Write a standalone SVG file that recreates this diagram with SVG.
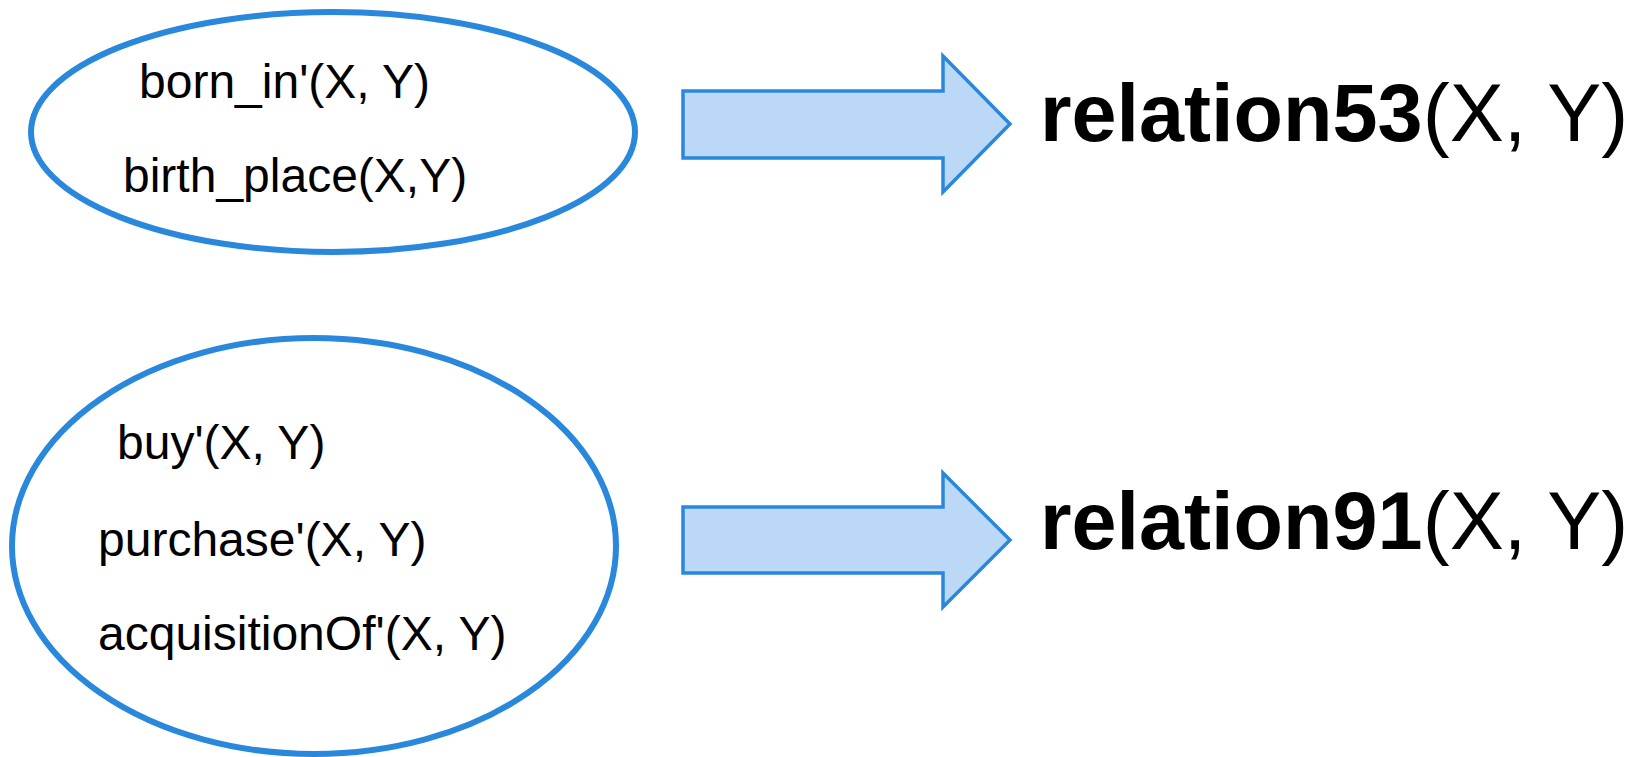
<svg xmlns="http://www.w3.org/2000/svg" width="1636" height="757" viewBox="0 0 1636 757">
  <style>
    .group { fill: #ffffff; stroke: #2a88dc; stroke-width: 6; }
    .arrow { fill: #bbd8f6; stroke: #2a88dc; stroke-width: 3.5; stroke-linejoin: miter; }
    .term { font-family: "Liberation Sans", Arial, sans-serif; font-size: 48px; fill: #000000; }
    .rel { font-family: "Liberation Sans", Arial, sans-serif; font-size: 81px; fill: #000000; }
    .rel .name { font-weight: bold; }
  </style>

  <!-- predicate clusters -->
  <g id="cluster-born">
    <ellipse class="group" cx="333" cy="132" rx="302" ry="120"/>
    <text class="term" x="139" y="98">born_in'(X, Y)</text>
    <text class="term" x="123" y="192">birth_place(X,Y)</text>
  </g>

  <g id="cluster-buy">
    <ellipse class="group" cx="314" cy="546" rx="302" ry="208"/>
    <text class="term" x="117" y="459">buy'(X, Y)</text>
    <text class="term" x="98" y="556">purchase'(X, Y)</text>
    <text class="term" x="98" y="650">acquisitionOf'(X, Y)</text>
  </g>

  <!-- mapping arrows -->
  <g id="connectors">
    <path class="arrow" d="M683,91 H943 V56 L1010,124 L943,192 V158 H683 Z"/>
    <path class="arrow" d="M683,507 H943 V473 L1010,540 L943,607 V573 H683 Z"/>
  </g>

  <!-- target relations -->
  <g id="relation53">
    <text class="rel" x="1040" y="141"><tspan class="name">relation53</tspan>(X, Y)</text>
  </g>
  <g id="relation91">
    <text class="rel" x="1040" y="549"><tspan class="name">relation91</tspan>(X, Y)</text>
  </g>
</svg>
